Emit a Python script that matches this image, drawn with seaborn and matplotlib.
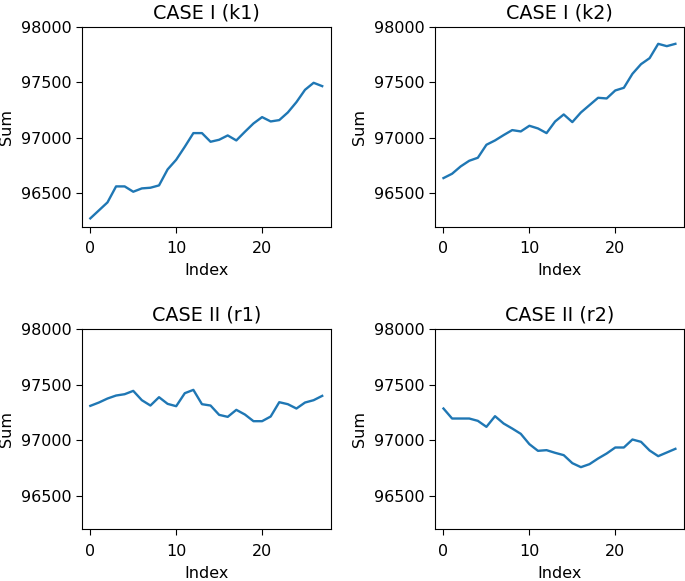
import numpy as np
import pandas as pd
import matplotlib
matplotlib.use("Agg")
import matplotlib.pyplot as plt
import seaborn as sns

index = list(range(28))

k1 = [96274, 96346, 96418, 96562, 96562, 96514, 96544, 96550, 96571, 96715,
      96802, 96919, 97042, 97042, 96964, 96982, 97021, 96976, 97054, 97129,
      97186, 97147, 97159, 97228, 97321, 97432, 97495, 97465]
k2 = [96637, 96676, 96742, 96793, 96820, 96937, 96976, 97024, 97069, 97057,
      97108, 97084, 97042, 97147, 97210, 97141, 97228, 97294, 97360, 97354,
      97426, 97450, 97576, 97663, 97717, 97846, 97825, 97846]
r1 = [97309, 97339, 97375, 97402, 97414, 97444, 97360, 97312, 97387, 97327,
      97306, 97423, 97453, 97324, 97312, 97228, 97210, 97273, 97231, 97171,
      97171, 97213, 97342, 97324, 97285, 97339, 97360, 97399]
r2 = [97285, 97195, 97195, 97195, 97174, 97120, 97216, 97150, 97105, 97057,
      96964, 96904, 96910, 96886, 96865, 96793, 96757, 96784, 96835, 96880,
      96934, 96934, 97006, 96985, 96907, 96856, 96889, 96922]

titles = ["CASE I (k1)", "CASE I (k2)", "CASE II (r1)", "CASE II (r2)"]
series = [k1, k2, r1, r2]
yticks = [96500, 97000, 97500, 98000]

plt.rcParams.update({
    "font.family": ["DejaVu Sans"],
    "font.size": 11.5,
    "axes.titlesize": 13.8,
    "axes.labelsize": 11.5,
    "xtick.labelsize": 11.5,
    "ytick.labelsize": 11.5,
    "xtick.major.size": 4.5,
    "ytick.major.size": 4.0,
    "xtick.major.pad": 6.0,
    "ytick.major.pad": 3.5,
    "axes.labelpad": 5.0,
})

fig, axes = plt.subplots(2, 2, figsize=(6.85, 5.81), dpi=100)
fig.subplots_adjust(left=0.1193, right=0.9985, top=0.954, bottom=0.0895,
                    wspace=0.418, hspace=0.513)

for ax, title, vals in zip(axes.flat, titles, series):
    df = pd.DataFrame({"Index": index, "Sum": vals})
    sns.lineplot(data=df, x="Index", y="Sum", ax=ax, color="#1f77b4", linewidth=1.7)
    ax.set_title(title)
    ax.set_xlim(-1.0, 28.0)
    ax.set_ylim(96200, 98000)
    ax.set_yticks(yticks)
    ax.set_xticks([0, 10, 20])

fig.savefig("out.png", dpi=100)
